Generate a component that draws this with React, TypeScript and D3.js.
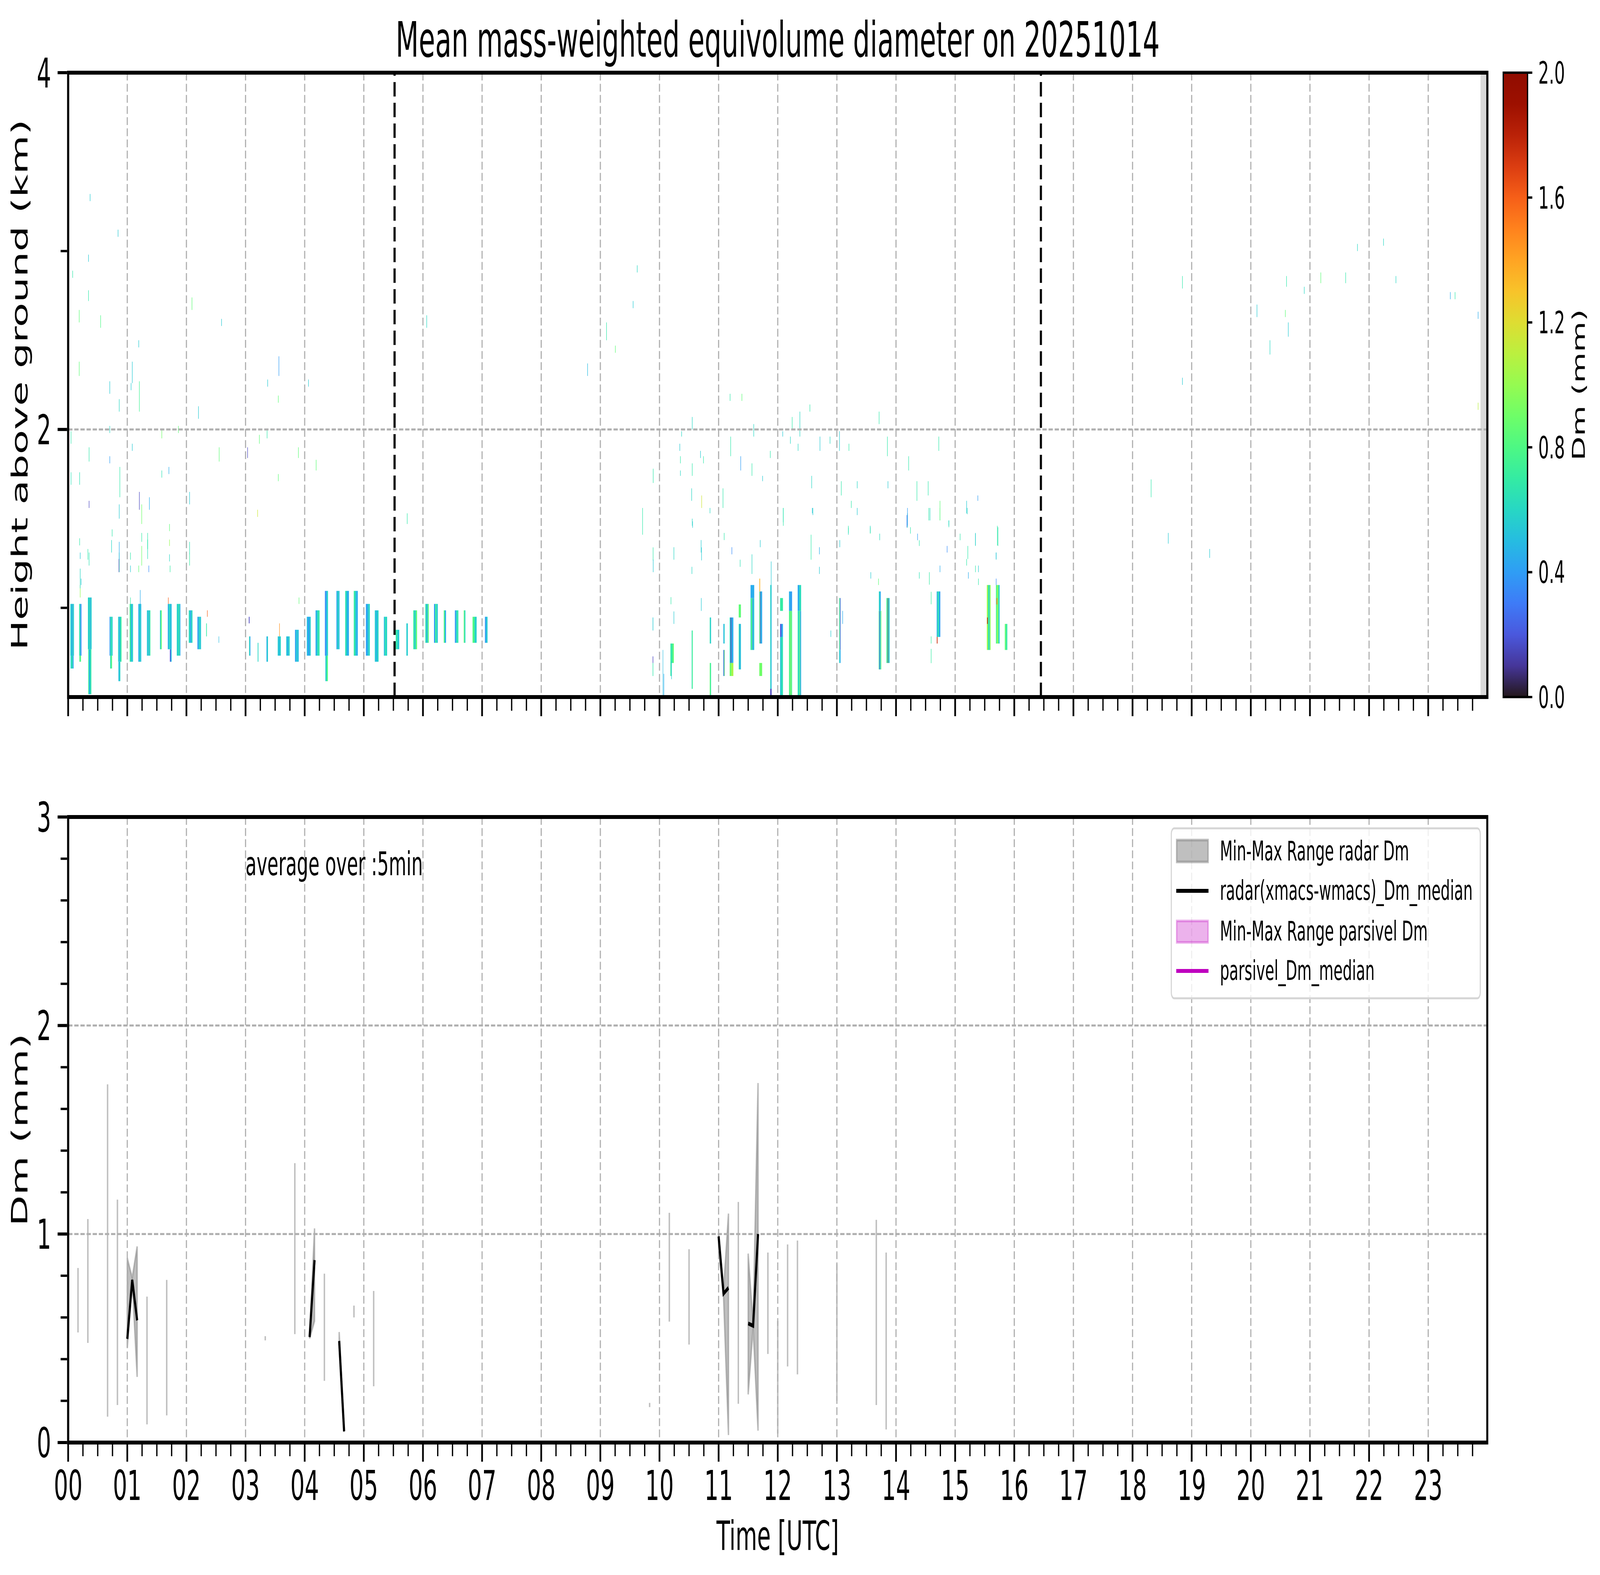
import * as d3 from "d3";

// ---- data (times in hours UTC, heights in km, Dm in mm) ----

// low-level echo columns: [tStart, tEnd, hBottom, hTop, ...Dm of sub-columns left→right]
const bandColumns: number[][] = [
  [0.037, 0.096, 0.732, 1.022, 0.62, 0.48, 0.55, 0.4, 0.66, 0.52],
  [0.04, 0.09, 0.66, 0.732, 0.55, 0.7, 0.45],
  [0.186, 0.223, 0.732, 1.022, 0.68, 0.55, 0.35],
  [0.19, 0.215, 0.698, 0.732, 0.8],
  [0.334, 0.395, 0.768, 1.058, 0.62, 0.5, 0.7, 0.45, 0.58],
  [0.34, 0.39, 0.516, 0.768, 0.75, 0.45, 0.55, 0.7],
  [0.7, 0.75, 0.732, 0.95, 0.4, 0.6, 0.68, 0.55],
  [0.71, 0.74, 0.66, 0.732, 0.65, 0.8],
  [0.845, 0.9, 0.698, 0.95, 0.6, 0.48, 0.55, 0.72],
  [0.85, 0.88, 0.589, 0.698, 0.5, 0.58],
  [1.04, 1.095, 0.698, 1.022, 0.75, 0.48, 0.58],
  [1.187, 1.234, 0.698, 1.022, 0.42, 0.55, 0.6, 0.5],
  [1.332, 1.388, 0.732, 0.986, 0.5, 0.62, 0.45, 0.68],
  [1.553, 1.58, 0.768, 0.986, 0.55, 0.85],
  [1.685, 1.748, 0.768, 1.022, 0.45, 0.62, 0.55, 0.5],
  [1.72, 1.748, 0.698, 0.768, 0.2, 0.5],
  [1.837, 1.896, 0.732, 1.022, 0.6, 0.55, 0.72, 0.48],
  [2.04, 2.1, 0.804, 0.986, 0.62, 0.45, 0.6],
  [2.186, 2.245, 0.768, 0.95, 0.4, 0.58, 0.55],
  [2.334, 2.343, 0.84, 0.913, 0.7],
  [2.545, 2.55, 0.804, 0.84, 0.5],
  [3.055, 3.065, 0.913, 0.95, 0.15],
  [3.06, 3.08, 0.732, 0.84, 0.65, 0.45],
  [3.205, 3.215, 0.698, 0.804, 0.6],
  [3.354, 3.377, 0.698, 0.84, 0.45, 0.58],
  [3.544, 3.594, 0.732, 0.84, 0.56, 0.5, 0.58],
  [3.688, 3.744, 0.732, 0.84, 0.55, 0.45, 0.6],
  [3.836, 3.897, 0.698, 0.877, 0.42, 0.55, 0.5],
  [4.036, 4.1, 0.732, 0.95, 0.5, 0.4, 0.55],
  [4.184, 4.25, 0.732, 0.986, 0.45, 0.6, 0.68],
  [4.342, 4.392, 0.732, 1.095, 0.35, 0.45, 0.6],
  [4.35, 4.39, 0.589, 0.732, 0.55, 0.8],
  [4.537, 4.587, 0.768, 1.095, 0.42, 0.62, 0.5],
  [4.685, 4.746, 0.732, 1.095, 0.66, 0.5, 0.45],
  [4.83, 4.896, 0.732, 1.095, 0.7, 0.55, 0.45],
  [5.035, 5.1, 0.732, 1.022, 0.4, 0.5, 0.6],
  [5.186, 5.247, 0.698, 0.986, 0.55, 0.48, 0.6],
  [5.339, 5.392, 0.732, 0.95, 0.5, 0.66, 0.58],
  [5.54, 5.597, 0.768, 0.877, 0.68, 0.55],
  [5.72, 5.742, 0.732, 0.913, 0.56],
  [5.837, 5.898, 0.768, 0.986, 0.7, 0.55, 0.85],
  [6.04, 6.096, 0.804, 1.022, 0.68, 0.45, 0.8],
  [6.187, 6.249, 0.804, 1.022, 0.4, 0.75, 0.55],
  [6.352, 6.388, 0.804, 0.986, 0.8, 0.45],
  [6.54, 6.597, 0.804, 0.986, 0.38, 0.6, 0.68],
  [6.69, 6.716, 0.804, 0.986, 0.85, 0.6],
  [6.839, 6.906, 0.804, 0.95, 0.8, 0.58],
  [7.048, 7.09, 0.804, 0.95, 0.4, 0.55],
  [9.885, 9.892, 0.873, 0.946, 0.55],
  [9.885, 9.892, 0.691, 0.728, 0.15],
  [9.885, 9.892, 0.618, 0.691, 0.68],
  [10.055, 10.06, 0.509, 0.764, 0.5],
  [10.185, 10.2, 0.618, 0.8, 0.7],
  [10.2, 10.24, 0.691, 0.8, 0.68, 0.85],
  [10.545, 10.56, 0.546, 0.873, 0.62, 0.78],
  [10.85, 10.87, 0.8, 0.946, 0.65, 0.55],
  [10.85, 10.87, 0.509, 0.691, 0.85, 0.7],
  [11.08, 11.1, 0.618, 0.764, 0.4, 0.15, 0.85],
  [11.08, 11.1, 0.8, 0.91, 0.45, 0.58],
  [11.187, 11.247, 0.691, 0.946, 0.6, 0.15, 0.5, 0.42],
  [11.187, 11.247, 0.618, 0.691, 0.9, 1.05],
  [11.34, 11.375, 0.655, 0.91, 0.7, 0.4, 0.56],
  [11.34, 11.375, 0.946, 1.019, 0.85],
  [11.54, 11.6, 0.764, 1.055, 0.62, 0.85, 0.4, 0.55],
  [11.54, 11.6, 1.055, 1.128, 0.45],
  [11.688, 11.734, 0.8, 1.092, 0.85, 0.2, 0.55, 0.4],
  [11.69, 11.7, 1.092, 1.164, 1.35],
  [11.688, 11.734, 0.618, 0.691, 0.9],
  [11.873, 11.894, 0.546, 1.128, 0.62, 0.5],
  [11.873, 11.894, 0.5, 0.546, 0.15],
  [12.04, 12.086, 0.5, 0.837, 0.55, 0.65],
  [12.04, 12.086, 0.837, 0.91, 0.2, 0.45],
  [12.04, 12.086, 0.983, 1.055, 0.7],
  [12.19, 12.24, 0.5, 0.983, 0.85, 0.7, 1.0, 0.75],
  [12.19, 12.24, 0.983, 1.092, 0.45, 0.4],
  [12.337, 12.393, 0.5, 0.983, 0.7, 0.55, 0.85, 0.45],
  [12.337, 12.393, 0.983, 1.128, 0.45, 0.62],
  [13.04, 13.06, 0.764, 1.055, 0.85, 0.65, 0.2],
  [13.04, 13.06, 0.691, 0.764, 0.6, 0.45],
  [13.708, 13.749, 0.655, 0.983, 0.75, 0.2, 0.65, 0.45, 0.9],
  [13.71, 13.74, 0.983, 1.092, 0.6, 0.45],
  [13.838, 13.89, 0.691, 1.055, 0.7, 0.9, 0.15, 0.75, 0.5],
  [14.688, 14.747, 0.837, 1.092, 0.45, 0.7, 0.55, 0.4],
  [14.69, 14.7, 0.8, 0.837, 1.75],
  [15.536, 15.597, 0.764, 1.128, 1.05, 0.8, 0.55, 0.95],
  [15.54, 15.55, 0.91, 0.946, 1.8],
  [15.69, 15.75, 0.8, 1.128, 0.75, 1.0, 0.85, 0.55],
  [15.7, 15.71, 1.019, 1.055, 1.55],
  [15.84, 15.88, 0.764, 0.91, 0.85, 0.7],
];

// isolated thin echoes: [t, hBottom, hTop, Dm]
const echoStreaks: number[][] = [
  [0.2, 1.058, 1.128, 1.0], [0.215, 1.128, 1.164, 0.55], [0.2, 1.274, 1.31, 0.55], [0.35, 1.237, 1.31, 0.65],
  [0.73, 1.31, 1.38, 0.6], [0.86, 1.2, 1.31, 0.7], [0.855, 1.2, 1.274, 0.15], [1.05, 1.2, 1.237, 0.55],
  [1.05, 1.022, 1.058, 0.68], [1.19, 1.2, 1.237, 0.85], [1.24, 1.237, 1.347, 0.9], [1.34, 1.274, 1.383, 0.65],
  [1.36, 1.2, 1.237, 0.35], [1.71, 1.347, 1.383, 1.0], [1.72, 1.2, 1.237, 0.7], [2.05, 1.237, 1.31, 0.7],
  [1.215, 0.986, 1.1, 0.45], [1.69, 1.022, 1.058, 1.6], [2.35, 0.95, 0.986, 1.6],
  [0.367, 3.28, 3.32, 0.55], [0.072, 2.85, 2.89, 0.68], [0.34, 2.94, 2.98, 0.55], [0.34, 2.72, 2.78, 0.68],
  [0.183, 2.6, 2.67, 0.85], [0.545, 2.57, 2.64, 0.8], [0.84, 3.08, 3.12, 0.55], [2.09, 2.67, 2.74, 0.85],
  [2.59, 2.58, 2.62, 0.55], [0.183, 2.3, 2.38, 0.85], [1.19, 2.46, 2.5, 0.55], [1.08, 2.26, 2.38, 0.55],
  [0.7, 2.2, 2.27, 0.55], [1.2, 2.1, 2.27, 0.75], [1.06, 2.22, 2.26, 0.55], [0.86, 2.1, 2.17, 0.6],
  [2.2, 2.06, 2.13, 0.55], [3.56, 2.3, 2.41, 0.4], [3.37, 2.24, 2.28, 0.55], [3.55, 2.15, 2.19, 0.85],
  [4.06, 2.24, 2.28, 0.55], [6.06, 2.57, 2.64, 0.6], [0.044, 1.92, 1.99, 0.68], [0.7, 1.98, 2.02, 0.6],
  [1.58, 1.95, 2.0, 0.9], [1.86, 1.98, 2.02, 0.85], [0.35, 1.82, 1.9, 0.68], [1.08, 1.88, 1.92, 0.55],
  [2.55, 1.82, 1.9, 0.85], [3.03, 1.84, 1.9, 0.15], [3.23, 1.92, 1.97, 0.85], [3.36, 1.95, 2.0, 0.68],
  [3.89, 1.84, 1.9, 0.85], [0.7, 1.81, 1.85, 0.4], [0.044, 1.69, 1.76, 0.65], [0.19, 1.69, 1.76, 0.65],
  [0.87, 1.62, 1.79, 0.68], [1.58, 1.73, 1.77, 0.65], [1.7, 1.75, 1.79, 0.45], [4.19, 1.77, 1.83, 0.85],
  [3.55, 1.71, 1.75, 0.85], [0.35, 1.56, 1.6, 0.15], [0.86, 1.5, 1.58, 0.55], [1.2, 1.55, 1.65, 0.15],
  [1.24, 1.47, 1.58, 0.9], [1.37, 1.55, 1.62, 0.45], [2.05, 1.58, 1.65, 0.55], [3.2, 1.51, 1.55, 1.15],
  [5.73, 1.47, 1.53, 0.68], [0.19, 1.35, 1.39, 0.68], [0.74, 1.4, 1.44, 0.68], [0.86, 1.27, 1.37, 0.45],
  [1.24, 1.37, 1.42, 0.7], [1.34, 1.33, 1.42, 0.68], [1.71, 1.43, 1.47, 0.85], [2.05, 1.3, 1.37, 0.65],
  [0.33, 1.27, 1.33, 0.68], [1.05, 1.27, 1.31, 0.68], [1.71, 1.26, 1.3, 0.6], [0.2, 1.11, 1.22, 0.6],
  [3.9, 1.022, 1.058, 0.85], [3.57, 0.84, 0.913, 1.45],
  [9.888, 1.266, 1.339, 0.68], [10.556, 1.449, 1.485, 0.55], [10.707, 1.266, 1.339, 0.55], [10.545, 1.19, 1.23, 0.6],
  [11.09, 1.38, 1.42, 0.68], [11.22, 1.3, 1.34, 0.35], [11.36, 1.23, 1.27, 0.65], [11.56, 1.19, 1.3, 0.6],
  [11.7, 1.34, 1.38, 0.55], [11.885, 1.05, 1.26, 0.55], [12.09, 1.48, 1.56, 0.6], [12.59, 1.52, 1.56, 0.55],
  [13.045, 1.34, 1.38, 0.55], [13.19, 1.41, 1.45, 0.6], [13.34, 1.52, 1.56, 0.55], [12.56, 1.27, 1.41, 0.68],
  [12.7, 1.19, 1.23, 0.55], [12.7, 1.3, 1.34, 0.45], [10.24, 1.27, 1.34, 0.6], [10.19, 1.02, 1.06, 0.68],
  [10.24, 0.91, 0.98, 0.55], [10.703, 0.983, 1.055, 0.55], [12.894, 0.837, 0.873, 0.55], [13.094, 0.91, 0.983, 0.45],
  [10.07, 0.51, 0.63, 0.45], [10.2, 0.6, 0.7, 0.55],
  [13.56, 1.416, 1.452, 0.75], [13.72, 1.379, 1.416, 0.62], [13.57, 1.164, 1.2, 0.55], [13.7, 1.128, 1.164, 0.85],
  [14.19, 1.45, 1.53, 0.68], [14.18, 1.45, 1.52, 0.3], [14.24, 1.416, 1.452, 0.68], [14.36, 1.379, 1.416, 0.4],
  [14.39, 1.347, 1.379, 0.68], [14.39, 1.164, 1.2, 0.65], [14.56, 1.13, 1.2, 0.7], [14.57, 1.49, 1.56, 0.62],
  [14.74, 1.49, 1.56, 0.65], [14.74, 1.2, 1.237, 0.45], [14.86, 1.31, 1.347, 0.35], [14.89, 1.452, 1.49, 0.65],
  [15.08, 1.379, 1.416, 0.68], [15.21, 1.274, 1.347, 0.68], [15.19, 1.237, 1.274, 0.68], [15.22, 1.164, 1.2, 0.45],
  [15.2, 1.525, 1.56, 0.6], [15.34, 1.347, 1.416, 0.68], [15.34, 1.2, 1.237, 0.68], [15.39, 1.2, 1.237, 0.55],
  [15.39, 1.128, 1.164, 0.68], [15.69, 1.274, 1.31, 0.5], [15.69, 1.128, 1.164, 0.35], [15.72, 1.347, 1.452, 0.68],
  [14.59, 1.02, 1.09, 0.7], [14.59, 0.8, 0.84, 0.7], [14.59, 0.69, 0.77, 0.7],
  [9.71, 1.41, 1.56, 0.68], [9.89, 1.7, 1.78, 0.68], [9.89, 1.2, 1.27, 0.55], [10.37, 1.96, 1.99, 0.6],
  [10.34, 1.88, 1.92, 0.55], [10.35, 1.81, 1.85, 0.68], [10.35, 1.74, 1.77, 0.6], [10.55, 2.0, 2.07, 0.6],
  [10.55, 1.74, 1.81, 0.68], [10.54, 1.6, 1.67, 0.6], [10.55, 1.46, 1.5, 0.6], [10.69, 1.84, 1.88, 0.55],
  [10.74, 1.81, 1.85, 0.68], [10.71, 1.56, 1.63, 1.15], [10.7, 1.31, 1.38, 0.55], [10.85, 1.53, 1.56, 0.6],
  [11.07, 1.56, 1.67, 0.68], [11.2, 1.85, 1.96, 0.68], [11.19, 2.16, 2.2, 0.68], [11.39, 2.16, 2.2, 0.85],
  [11.37, 1.77, 1.85, 0.4], [11.56, 1.74, 1.81, 0.68], [11.59, 1.96, 2.03, 0.6], [11.74, 1.71, 1.74, 0.55],
  [11.87, 1.84, 1.88, 0.68], [12.09, 1.46, 1.56, 0.68], [12.08, 1.96, 1.99, 0.55], [12.21, 1.92, 1.96, 0.6],
  [12.24, 2.0, 2.07, 0.68], [12.37, 1.96, 2.1, 0.6], [12.34, 1.88, 1.92, 0.6], [12.54, 2.1, 2.14, 0.68],
  [12.57, 1.67, 1.74, 0.6], [12.58, 1.53, 1.56, 0.55], [12.71, 1.88, 1.96, 0.55], [12.88, 1.92, 1.96, 0.6],
  [13.04, 1.88, 1.99, 0.55], [13.07, 1.63, 1.71, 0.68], [13.2, 1.88, 1.92, 0.68], [13.24, 1.56, 1.6, 0.68],
  [13.34, 1.67, 1.71, 0.6], [13.19, 1.42, 1.46, 0.68], [13.56, 1.42, 1.46, 0.6], [13.71, 2.03, 2.1, 0.68],
  [13.85, 1.85, 1.96, 0.68], [13.86, 1.67, 1.71, 0.55], [14.21, 1.77, 1.85, 0.68], [14.19, 1.46, 1.56, 0.4],
  [14.35, 1.6, 1.71, 0.68], [14.54, 1.63, 1.71, 0.68], [14.55, 1.49, 1.56, 0.68], [14.72, 1.88, 1.96, 0.68],
  [14.74, 1.49, 1.6, 0.85], [14.89, 1.46, 1.49, 0.6], [15.19, 1.53, 1.6, 0.55], [15.38, 1.6, 1.63, 0.4],
  [15.34, 1.35, 1.42, 0.55], [15.71, 1.35, 1.46, 0.68], [15.69, 1.27, 1.31, 0.55],
  [8.78, 2.3, 2.37, 0.5], [9.1, 2.5, 2.6, 0.68], [9.25, 2.43, 2.47, 0.85], [9.62, 2.88, 2.92, 0.6],
  [9.55, 2.68, 2.72, 0.55], [18.31, 1.62, 1.72, 0.68], [18.6, 1.36, 1.42, 0.55], [18.84, 2.79, 2.86, 0.68],
  [18.84, 2.25, 2.29, 0.55], [19.3, 1.28, 1.33, 0.55], [20.1, 2.63, 2.7, 0.55], [20.32, 2.42, 2.5, 0.6],
  [20.6, 2.8, 2.86, 0.68], [20.58, 2.63, 2.67, 0.85], [20.63, 2.52, 2.6, 0.55], [20.9, 2.76, 2.8, 0.6],
  [21.18, 2.82, 2.88, 0.85], [21.6, 2.82, 2.88, 0.68], [22.45, 2.82, 2.86, 0.6], [21.8, 3.0, 3.04, 0.6],
  [22.24, 3.03, 3.07, 0.6], [23.45, 2.73, 2.77, 0.68], [23.37, 2.73, 2.77, 0.45], [23.84, 2.62, 2.66, 0.45],
  [23.84, 2.11, 2.15, 1.1],
];

// 5-minute radar Dm statistics (minute of day)
const radarMinute = [10, 20, 40, 50, 60, 65, 70, 80, 100, 200, 230, 245, 250, 260, 275, 280, 290, 310,
  590, 610, 630, 660, 665, 670, 680, 690, 695, 700, 710, 720, 730, 740, 780, 820, 830];
const radarMin = [0.528, 0.478, 0.124, 0.18, 0.455, 0.775, 0.315, 0.087, 0.13, 0.49, 0.52, 0.5, 0.583, 0.296, 0.485, 0.05, 0.6, 0.27,
  0.17, 0.58, 0.47, 0.93, 0.7, 0.036, 0.186, 0.231, 0.55, 0.057, 0.425, 0.043, 0.365, 0.327, 0.2, 0.18, 0.063];
const radarMax = [0.837, 1.072, 1.718, 1.165, 0.884, 0.79, 0.94, 0.7, 0.78, 0.51, 1.34, 0.52, 1.027, 0.81, 0.53, 0.06, 0.657, 0.727,
  0.19, 1.102, 0.927, 1.0, 0.73, 1.098, 1.154, 0.906, 0.57, 1.724, 0.911, 0.583, 0.95, 0.969, 0.857, 1.068, 0.911];
const radarMedian: (number | null)[] = [null, null, null, null, 0.497, 0.78, 0.586, null, null, null, null, 0.506, 0.875, null, 0.487, 0.054, null, null,
  null, null, null, 0.989, 0.714, 0.742, null, 0.571, 0.56, 1.0, null, null, null, null, null, null, null];

const markerHours = [5.52, 16.45]; // dashed black lines
const noDataFrom = 23.885;
const legendLabels = ["Min-Max Range radar Dm", "radar(xmacs-wmacs)_Dm_median", "Min-Max Range parsivel Dm", "parsivel_Dm_median"];
const cbTicks = [0, 0.4, 0.8, 1.2, 1.6, 2.0];

const W = 7442, H = 4031;
const X0 = 317, X1 = 6918;
const TOP0 = 186, TOP1 = 1784;
const BOT0 = 2091, BOT1 = 3692;
const CB0 = 6992, CB1 = 7105;
const FONT = "DejaVu Sans";
const GRID = { stroke: "#b0b0b0", strokeWidth: 5.3, strokeDasharray: "20 8.5" };

export default function App() {
  const x = d3.scaleLinear().domain([0, 24]).range([X0, X1]);
  const yTop = d3.scaleLinear().domain([0.5, 4]).range([TOP1, TOP0]);
  const yBot = d3.scaleLinear().domain([0, 3]).range([BOT1, BOT0]);
  const yCb = d3.scaleLinear().domain([0, 2]).range([TOP1, TOP0]);
  const color = d3.scaleSequential(d3.interpolateTurbo).domain([0, 2]);

  const majorHours = d3.range(0, 24);
  const minorHours = d3.range(0, 97).map((i) => i / 4).filter((h) => h % 1 !== 0);

  // radar runs of consecutive 5-min bins
  const pts = radarMinute.map((m, i) => ({ t: m / 60, m, min: radarMin[i], max: radarMax[i], med: radarMedian[i] }));
  const runs: typeof pts[] = [];
  pts.forEach((p, i) => {
    if (i > 0 && p.m - pts[i - 1].m === 5) runs[runs.length - 1].push(p);
    else runs.push([p]);
  });
  const area = d3.area<(typeof pts)[0]>().x((d) => x(d.t)).y0((d) => yBot(d.min)).y1((d) => yBot(d.max));
  const medLine = d3.line<(typeof pts)[0]>().defined((d) => d.med != null).x((d) => x(d.t)).y((d) => yBot(d.med as number));

  const gradStops = d3.range(0, 21).map((i) => i / 20);

  const axesFrame = (y0: number, y1: number) => (
    <rect x={X0} y={y0} width={X1 - X0} height={y1 - y0} fill="none" stroke="#000" strokeWidth={10} />
  );
  const xTicks = (yb: number) => (
    <g stroke="#000">
      {majorHours.map((h) => <line key={"M" + h} x1={x(h)} x2={x(h)} y1={yb} y2={yb + 44} strokeWidth={8} />)}
      {minorHours.map((h) => <line key={"m" + h} x1={x(h)} x2={x(h)} y1={yb} y2={yb + 30} strokeWidth={6} />)}
    </g>
  );

  const lx = 5448, ly = 2120;

  // the svg is scaled to whatever viewport the page gets, so nothing is cut at the edges
  return (
    <svg
      viewBox={`0 0 ${W} ${H}`}
      preserveAspectRatio="none"
      style={{ position: "fixed", left: 0, top: 0, width: "100vw", height: "100vh", display: "block" }}
      fontFamily={FONT}
    >
      <defs>
        <clipPath id="topClip"><rect x={X0} y={TOP0} width={X1 - X0} height={TOP1 - TOP0} /></clipPath>
        <linearGradient id="turbo" x1="0" y1="1" x2="0" y2="0">
          {gradStops.map((s) => <stop key={s} offset={s} stopColor={color(s * 2)} />)}
        </linearGradient>
      </defs>
      <rect width={W} height={H} fill="#fff" />

      <text x={(X0 + X1) / 2} y={145} fontSize={124} textAnchor="middle">Mean mass-weighted equivolume diameter on 20251014</text>

      {/* ---------- top panel ---------- */}
      <g clipPath="url(#topClip)">
        <rect x={x(noDataFrom)} y={TOP0} width={x(24) - x(noDataFrom)} height={TOP1 - TOP0} fill="#d9d9d9" />
        {bandColumns.map((c, i) => {
          const [t0, t1, h0, h1, ...dms] = c;
          const w = (x(t1) - x(t0)) / dms.length;
          return dms.map((dm, j) => (
            <rect key={i + "-" + j} x={x(t0) + j * w} y={yTop(h1)} width={w + 0.6} height={yTop(h0) - yTop(h1)} fill={color(dm)} />
          ));
        })}
        {echoStreaks.map(([t, h0, h1, dm], i) => (
          <rect key={"s" + i} x={x(t)} y={yTop(h1)} width={x(t + 0.008) - x(t)} height={yTop(h0) - yTop(h1)} fill={color(dm)} />
        ))}
      </g>
      <g {...GRID} fill="none">
        {d3.range(1, 24).map((h) => <line key={h} x1={x(h)} x2={x(h)} y1={TOP0} y2={TOP1} />)}
        <line x1={X0} x2={X1} y1={yTop(2)} y2={yTop(2)} />
      </g>
      {markerHours.map((h) => (
        <line key={h} x1={x(h)} x2={x(h)} y1={TOP1} y2={TOP0} stroke="#000" strokeWidth={10} strokeDasharray="37 16" />
      ))}
      {axesFrame(TOP0, TOP1)}
      {xTicks(TOP1 + 5)}
      <g stroke="#000">
        {[2, 4].map((v) => <line key={v} x1={X0 - 5} x2={X0 - 49} y1={yTop(v)} y2={yTop(v)} strokeWidth={8} />)}
        {[1, 3].map((v) => <line key={v} x1={X0 - 5} x2={X0 - 35} y1={yTop(v)} y2={yTop(v)} strokeWidth={6} />)}
      </g>
      {[2, 4].map((v) => (
        <text key={v} x={238} y={yTop(v)} dy="0.36em" fontSize={105} textAnchor="end">{v}</text>
      ))}
      <text transform={`translate(127,${(TOP0 + TOP1) / 2}) rotate(-90)`} fontSize={103} textAnchor="middle">Height above ground (km)</text>

      {/* ---------- colorbar ---------- */}
      <rect x={CB0} y={TOP0} width={CB1 - CB0} height={TOP1 - TOP0} fill="url(#turbo)" stroke="#000" strokeWidth={6} />
      {cbTicks.map((v) => (
        <g key={v}>
          <line x1={CB1} x2={CB1 + 22} y1={yCb(v)} y2={yCb(v)} stroke="#000" strokeWidth={6} />
          <text x={7155} y={yCb(v)} dy="0.36em" fontSize={78}>{d3.format(".1f")(v)}</text>
        </g>
      ))}
      <text transform={`translate(7371,${(TOP0 + TOP1) / 2}) rotate(-90)`} fontSize={81} textAnchor="middle">Dm (mm)</text>

      {/* ---------- bottom panel ---------- */}
      {runs.map((r, i) => (
        <path key={"a" + i} d={area(r) || ""} fill="#808080" fillOpacity={0.5} stroke="#808080" strokeOpacity={0.5} strokeWidth={6.7} />
      ))}
      <g {...GRID} fill="none">
        {d3.range(1, 24).map((h) => <line key={h} x1={x(h)} x2={x(h)} y1={BOT0} y2={BOT1} />)}
        {[1, 2].map((v) => <line key={v} x1={X0} x2={X1} y1={yBot(v)} y2={yBot(v)} />)}
      </g>
      {runs.filter((r) => r.length > 1).map((r, i) => (
        <path key={"l" + i} d={medLine(r) || ""} fill="none" stroke="#000" strokeWidth={10} />
      ))}
      <text x={x(3)} y={yBot(2.72)} fontSize={84}>average over :5min</text>

      {/* legend */}
      <rect x={lx} y={ly} width={1437} height={435} rx={14} fill="#fff" fillOpacity={0.8} stroke="#d5d5d5" strokeWidth={5} />
      <rect x={5473} y={2150} width={146} height={56} fill="#808080" fillOpacity={0.5} stroke="#808080" strokeOpacity={0.5} strokeWidth={6.7} />
      <line x1={5471} x2={5621} y1={2280} y2={2280} stroke="#000" strokeWidth={10} />
      <rect x={5473} y={2357} width={146} height={55} fill="#bf00bf" fillOpacity={0.3} stroke="#bf00bf" strokeOpacity={0.3} strokeWidth={6.7} />
      <line x1={5471} x2={5621} y1={2485} y2={2485} stroke="#bf00bf" strokeWidth={10} />
      {legendLabels.map((s, i) => (
        <text key={s} x={5674} y={[2202, 2303, 2407, 2508][i]} fontSize={69}>{s}</text>
      ))}

      {axesFrame(BOT0, BOT1)}
      {xTicks(BOT1 + 5)}
      <g stroke="#000">
        {[0, 1, 2, 3].map((v) => <line key={v} x1={X0 - 5} x2={X0 - 49} y1={yBot(v)} y2={yBot(v)} strokeWidth={8} />)}
        {d3.range(1, 15).map((i) => i / 5).filter((v) => Math.abs(v - Math.round(v)) > 1e-6).map((v) => (
          <line key={v} x1={X0 - 5} x2={X0 - 35} y1={yBot(v)} y2={yBot(v)} strokeWidth={6} />
        ))}
      </g>
      {[0, 1, 2, 3].map((v) => (
        <text key={v} x={238} y={yBot(v)} dy="0.36em" fontSize={105} textAnchor="end">{v}</text>
      ))}
      {majorHours.map((h) => (
        <text key={h} x={x(h)} y={3839} fontSize={105} textAnchor="middle">{String(h).padStart(2, "0")}</text>
      ))}
      <text x={(X0 + X1) / 2} y={3967} fontSize={103} textAnchor="middle">Time [UTC]</text>
      <text transform={`translate(127,${(BOT0 + BOT1) / 2}) rotate(-90)`} fontSize={103} textAnchor="middle">Dm (mm)</text>
    </svg>
  );
}
